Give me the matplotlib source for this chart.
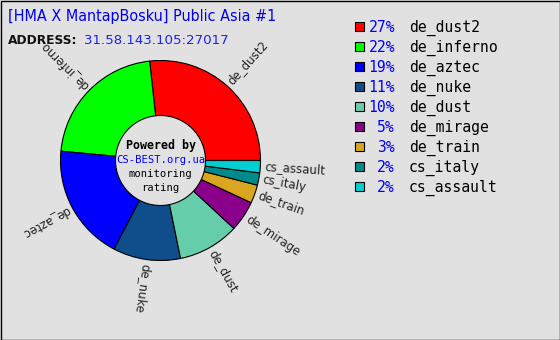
import numpy as np
import matplotlib
matplotlib.use("Agg")
import matplotlib.pyplot as plt
from matplotlib.patches import Circle, Rectangle

maps = ["de_dust2", "de_inferno", "de_aztec", "de_nuke", "de_dust",
        "de_mirage", "de_train", "cs_italy", "cs_assault"]
shares = [27, 22, 19, 11, 10, 5, 3, 2, 2]
colors = ["#ff0000", "#00ff00", "#0000ff", "#104e8b", "#66cdaa",
          "#8b008b", "#daa520", "#008b8b", "#00ced1"]
title = "[HMA X MantapBosku] Public Asia #1"
address = "31.58.143.105:27017"
center_lines = ["Powered by", "CS-BEST.org.ua", "monitoring", "rating"]

bg = "#e1e1e1"
W, H = 560, 340
fig = plt.figure(figsize=(W / 100, H / 100), dpi=100, facecolor=bg)

# page axes in pixel coordinates
page = fig.add_axes([0, 0, 1, 1])
page.set_xlim(0, W)
page.set_ylim(H, 0)
page.axis("off")
page.add_patch(Rectangle((0.5, 0.5), W - 1, H - 1, fill=False, ec="black", lw=1))

page.text(8, 17, title, color="#0000ee", fontsize=11.5, fontstretch="condensed",
          fontweight="light", va="center", ha="left")
page.text(8, 41, "ADDRESS:", color="#111111", fontsize=8.8, fontweight="bold",
          va="center", ha="left")
page.text(84, 41, address, color="#2020ee", fontsize=9.6, va="center", ha="left")

# legend
mono = "DejaVu Sans Mono"
for i, (m, s, c) in enumerate(zip(maps, shares, colors)):
    y = 28 + 20 * i
    page.add_patch(Rectangle((355, y - 6), 9, 9, fc=c, ec="black", lw=0.8))
    page.text(395, y, f"{s}%", color="#0000ff", family=mono, fontsize=10.6,
              ha="right", va="center")
    page.text(409, y, m, color="black", family=mono, fontsize=10.6,
              ha="left", va="center")

# pie
cx, cy, half = 160.5, 160.5, 110
ax = fig.add_axes([(cx - half) / W, (H - cy - half) / H, 2 * half / W, 2 * half / H])
wedges, _ = ax.pie(shares, colors=colors, startangle=0, counterclock=True,
                   radius=1.0, wedgeprops=dict(ec="black", lw=0.8))
ax.set_xlim(-1.1, 1.1)
ax.set_ylim(-1.1, 1.1)
ax.axis("off")
for w, m in zip(wedges, maps):
    a = (w.theta1 + w.theta2) / 2
    r = np.deg2rad(a)
    ax.text(1.04 * np.cos(r), 1.04 * np.sin(r), m, rotation=a,
            rotation_mode="anchor", ha="left", va="center", fontsize=8.5,
            color="#222222")
ax.add_patch(Circle((0, 0), 0.45, fc=bg, ec="black", lw=0.8, zorder=5))
ys = [0.145, 0.005, -0.135, -0.275]
for t, y in zip(center_lines, ys):
    bold = t == "Powered by"
    ax.text(0, y, t, ha="center", va="center", family=mono,
            fontsize=8.4 if bold else 7.6, zorder=6,
            fontweight="bold" if bold else "normal",
            color="#0000ff" if t.startswith("CS-") else "black")

fig.savefig("out.png", dpi=100, facecolor=bg)
